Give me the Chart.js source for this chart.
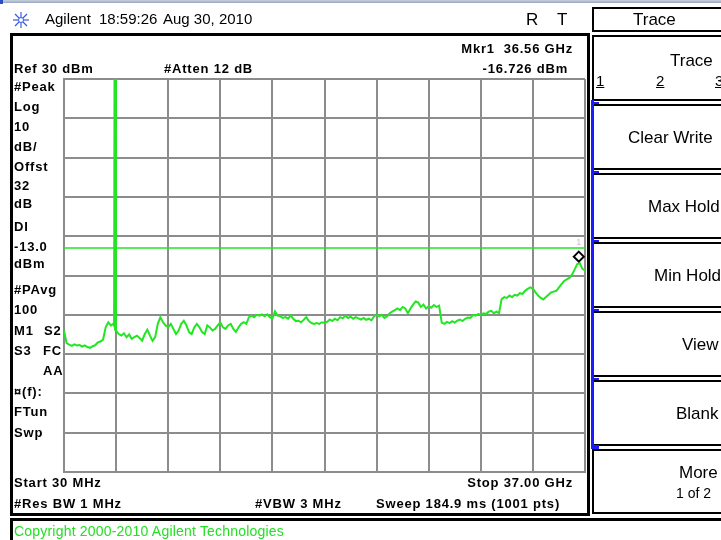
<!DOCTYPE html>
<html>
<head>
<meta charset="utf-8">
<script src="https://cdn.jsdelivr.net/npm/chart.js@4.4.1/dist/chart.umd.min.js"></script>
<style>
  html, body { margin:0; padding:0; background:#fff; }
  #wrap { position:relative; width:721px; height:540px; overflow:hidden; background:#fff; }
  #cv { position:absolute; left:0; top:0; z-index:1; }
  .lbl { position:absolute; white-space:pre; z-index:2; color:#000; }
  .b { font: bold 13px "Liberation Sans", Arial, sans-serif; letter-spacing:0.8px; line-height:16px; }
  .n15 { font: 15px "Liberation Sans", Arial, sans-serif; line-height:18px; }
  .k { font: 17px "Liberation Sans", Arial, sans-serif; line-height:20px; }
  .s { font: 14px "Liberation Sans", Arial, sans-serif; line-height:16px; }
  .u { text-decoration: underline; }
  .c { font: 14px "Liberation Sans", Arial, sans-serif; letter-spacing:0.2px; line-height:16px; color:#22e022; }
  .box { position:absolute; box-sizing:border-box; z-index:0; }
  .blue { position:absolute; background:#1a1aff; z-index:3; }
</style>
</head>
<body>
<div id="wrap">
  <div class="box" style="left:0;top:0;width:721px;height:3px;background:linear-gradient(#c8d0e0,#9aa6c0);"></div>
  <div class="box" style="left:0;top:0;width:3px;height:4px;background:#2a4cc8;"></div>
  <svg class="box" style="left:12px;top:11px;z-index:2" width="18" height="18" viewBox="0 0 18 18">
    <g stroke="#3a5de0" stroke-width="1.2">
      <line x1="9" y1="1" x2="9" y2="17"/><line x1="1" y1="9" x2="17" y2="9"/>
      <line x1="3" y1="3" x2="15" y2="15"/><line x1="15" y1="3" x2="3" y2="15"/>
    </g>
    <circle cx="9" cy="9" r="2.5" fill="#fff" stroke="#3a5de0" stroke-width="1"/>
  </svg>
  <!-- main screen frame -->
  <div class="box" style="left:10px;top:33px;width:580px;height:483px;border:3px solid #000;"></div>
  <!-- copyright frame -->
  <div class="box" style="left:10px;top:518px;width:730px;height:40px;border:3px solid #000;"></div>
  <!-- softkey frames -->
  <div class="box" style="left:592px;top:7px;width:140px;height:25px;border:2px solid #000;"></div>
  <div id="keys"></div>
  <canvas id="cv" width="721" height="540" style="width:721px;height:540px"></canvas>
  <div id="labels"></div>
</div>
<script>
// ---- instrument settings / data ----
const startGHz = 0.03;
const stopGHz = 37.0;
const refLevelDbm = 30;
const dbPerDiv = 10;
const numDivs = 10;
const displayLineDbm = -13.0;
const markerGHz = 36.56;
const markerDbm = -16.726;
// swept trace (dBm), evenly spaced sweep points from start to stop
const traceDbm = [
 -34.0,-37.2,-37.6,-37.9,-37.5,-37.8,-37.7,-38.1,-37.8,-38.2,
 -38.4,-38.0,-37.7,-37.0,-36.8,-36.3,-33.2,-31.9,-32.7,-32.3,
 -34.0,-34.9,-35.3,-34.7,-35.7,-35.0,-36.1,-35.7,-35.3,-35.9,
 -36.6,-34.9,-33.8,-35.3,-36.6,-35.7,-32.3,-30.6,-31.9,-32.7,
 -33.2,-32.3,-33.6,-34.9,-34.0,-32.3,-31.5,-32.7,-34.4,-34.9,
 -33.2,-32.3,-33.2,-34.4,-34.9,-32.7,-33.2,-34.0,-33.6,-32.7,
 -31.9,-33.2,-33.6,-32.7,-32.3,-33.6,-34.4,-33.2,-32.3,-31.9,
 -32.3,-30.6,-30.2,-30.6,-30.0,-30.2,-29.9,-30.4,-29.9,-30.6,
 -31.0,-29.1,-30.2,-30.4,-30.8,-30.6,-31.0,-30.2,-31.0,-31.6,
 -31.5,-31.9,-31.3,-30.6,-31.6,-32.1,-32.3,-32.1,-32.3,-31.9,
 -32.1,-31.8,-31.2,-31.6,-31.0,-31.4,-30.6,-30.9,-30.2,-30.8,
 -30.5,-31.0,-30.6,-30.9,-31.2,-30.8,-31.3,-31.0,-31.4,-30.4,
 -29.9,-30.4,-30.0,-30.8,-30.4,-29.6,-29.2,-28.8,-28.4,-28.8,
 -28.0,-28.4,-29.6,-28.4,-27.4,-26.6,-26.9,-28.0,-27.4,-28.4,
 -27.8,-28.2,-27.5,-28.0,-27.7,-32.0,-32.3,-31.8,-32.1,-31.6,
 -32.0,-31.5,-31.2,-31.6,-31.0,-30.7,-30.8,-30.0,-30.2,-29.8,
 -30.0,-29.6,-29.8,-29.2,-29.0,-29.6,-29.2,-29.6,-26.0,-25.5,
 -25.7,-25.1,-25.5,-24.9,-25.1,-24.5,-24.7,-23.9,-23.4,-23.0,
 -23.3,-24.3,-25.1,-25.7,-26.1,-25.5,-24.9,-24.3,-24.1,-23.9,
 -23.0,-22.2,-21.4,-21.0,-20.6,-19.8,-18.5,-17.1,-16.9,-18.3,
 -18.7
];
// narrow carrier spike near 3.65 GHz (clipped at top of screen)
const spikeGHz = [3.62, 3.649, 3.68];
const spikeDbm = [-32.3, 30, -34.0];

// ---- derived ----
const bottomDbm = refLevelDbm - dbPerDiv * numDivs;
const nPts = traceDbm.length;
const tracePoints = traceDbm.map((v, i) => ({ x: startGHz + i * (stopGHz - startGHz) / (nPts - 1), y: v }));
const spikePoints = spikeGHz.map((f, i) => ({ x: f, y: spikeDbm[i] }));
const xGridTicks = [];
for (let k = 0; k <= numDivs; k++) xGridTicks.push(startGHz + k * (stopGHz - startGHz) / numDivs);

const green = '#22e622';
const gridColor = '#8c8c8c';

const markerPlugin = {
  id: 'mkr',
  afterDatasetsDraw(chart) {
    const ctx = chart.ctx;
    const px = chart.scales.x.getPixelForValue(markerGHz);
    const py = chart.scales.y.getPixelForValue(markerDbm);
    ctx.save();
    ctx.strokeStyle = '#000';
    ctx.lineWidth = 2;
    const cy = py - 6, h = 5;
    ctx.beginPath();
    ctx.moveTo(px, cy - h); ctx.lineTo(px + h, cy); ctx.lineTo(px, cy + h); ctx.lineTo(px - h, cy); ctx.closePath();
    ctx.stroke();
    ctx.fillStyle = '#c4c4c4';
    ctx.font = '9px "Liberation Sans", Arial';
    ctx.textAlign = 'center';
    ctx.textBaseline = 'middle';
    ctx.fillText('1', px, cy - 14);
    ctx.restore();
  }
};

new Chart(document.getElementById('cv').getContext('2d'), {
  type: 'line',
  data: {
    datasets: [
      { data: tracePoints, borderColor: green, borderWidth: 2, pointRadius: 0, tension: 0 },
      { data: spikePoints, borderColor: green, borderWidth: 3, pointRadius: 0, tension: 0 },
      { data: [{ x: startGHz, y: displayLineDbm }, { x: stopGHz, y: displayLineDbm }], borderColor: green, borderWidth: 1.5, pointRadius: 0 }
    ]
  },
  options: {
    responsive: false,
    animation: false,
    events: [],
    layout: { padding: { left: 64, top: 79, right: 136, bottom: 68 } },
    plugins: { legend: { display: false }, tooltip: { enabled: false } },
    scales: {
      x: {
        type: 'linear', min: startGHz, max: stopGHz,
        afterBuildTicks: s => { s.ticks = xGridTicks.map(v => ({ value: v })); },
        ticks: { display: false },
        grid: { color: gridColor, lineWidth: 2, drawTicks: false },
        border: { display: true, color: gridColor, width: 2 }
      },
      y: {
        type: 'linear', min: bottomDbm, max: refLevelDbm,
        ticks: { display: false, stepSize: dbPerDiv },
        grid: { color: gridColor, lineWidth: 2, drawTicks: false },
        border: { display: true, color: gridColor, width: 2 }
      }
    }
  },
  plugins: [markerPlugin]
});

// ---- screen annotations (text) ----
const labels = [
  ['Agilent', 45, 19, 'n15'], ['18:59:26', 99, 19, 'n15'], ['Aug 30, 2010', 163, 19, 'n15'],
  ['R', 526, 20, 'k'], ['T', 557, 20, 'k'],
  ['Ref 30 dBm', 14, 69, 'b'], ['#Atten 12 dB', 164, 69, 'b'],
  ['Mkr1  36.56 GHz', -573, 49, 'b'], ['-16.726 dBm', -568, 69, 'b'],
  ['#Peak', 14, 87, 'b'], ['Log', 14, 107, 'b'], ['10', 14, 127, 'b'], ['dB/', 14, 147, 'b'],
  ['Offst', 14, 167, 'b'], ['32', 14, 186, 'b'], ['dB', 14, 204, 'b'], ['DI', 14, 227, 'b'],
  ['-13.0', 14, 247, 'b'], ['dBm', 14, 264, 'b'], ['#PAvg', 14, 290, 'b'], ['100', 14, 310, 'b'],
  ['M1', 14, 331, 'b'], ['S2', 44, 331, 'b'], ['S3', 14, 351, 'b'], ['FC', 43, 351, 'b'],
  ['AA', 43, 371, 'b'], ['\u00a4(f):', 14, 392, 'b'], ['FTun', 14, 412, 'b'], ['Swp', 14, 433, 'b'],
  ['Start 30 MHz', 14, 483, 'b'], ['Stop 37.00 GHz', -573, 483, 'b'],
  ['#Res BW 1 MHz', 14, 504, 'b'], ['#VBW 3 MHz', 255, 504, 'b'], ['Sweep 184.9 ms (1001 pts)', 376, 504, 'b'],
  ['Copyright 2000-2010 Agilent Technologies', 14, 531, 'c'],
  ['Trace', 633, 20, 'k'],
  ['Trace', 670, 61, 'k'], ['1', 596, 81, 'n15 u'], ['2', 656, 81, 'n15 u'], ['3', 715, 81, 'n15 u'],
  ['Clear Write', 628, 138, 'k'], ['Max Hold', 648, 207, 'k'], ['Min Hold', 654, 276, 'k'],
  ['View', 682, 345, 'k'], ['Blank', 676, 414, 'k'], ['More', 679, 473, 'k'], ['1 of 2', 676, 493, 's']
];
const lh = { b: 16, n15: 18, k: 20, s: 16, c: 16 };
const host = document.getElementById('labels');
labels.forEach(([t, x, cy, cls]) => {
  const d = document.createElement('div');
  d.className = 'lbl ' + cls;
  d.textContent = t;
  const h = lh[cls.split(' ')[0]];
  d.style.top = (cy - h / 2) + 'px';
  if (x < 0) d.style.right = (721 + x) + 'px'; else d.style.left = x + 'px';
  host.appendChild(d);
});

// softkey boxes
const keysHost = document.getElementById('keys');
for (let k = 0; k < 7; k++) {
  const top = 35 + 69 * k;
  const d = document.createElement('div');
  d.className = 'box';
  d.style.cssText = `left:592px;top:${top}px;width:140px;height:${k === 6 ? 65 : 66}px;border:2px solid #000;`;
  keysHost.appendChild(d);
  if (k >= 1 && k <= 6) {
    const t = document.createElement('div');
    t.className = 'blue';
    t.style.cssText = `left:591px;top:${top - 2}px;width:8px;height:2px;`;
    keysHost.appendChild(t);
  }
}
const bl = document.createElement('div');
bl.className = 'blue';
bl.style.cssText = 'left:591px;top:100px;width:3px;height:347px;';
keysHost.appendChild(bl);
const bl2 = document.createElement('div');
bl2.className = 'blue';
bl2.style.cssText = 'left:591px;top:445px;width:8px;height:2px;';
keysHost.appendChild(bl2);
</script>
</body>
</html>
